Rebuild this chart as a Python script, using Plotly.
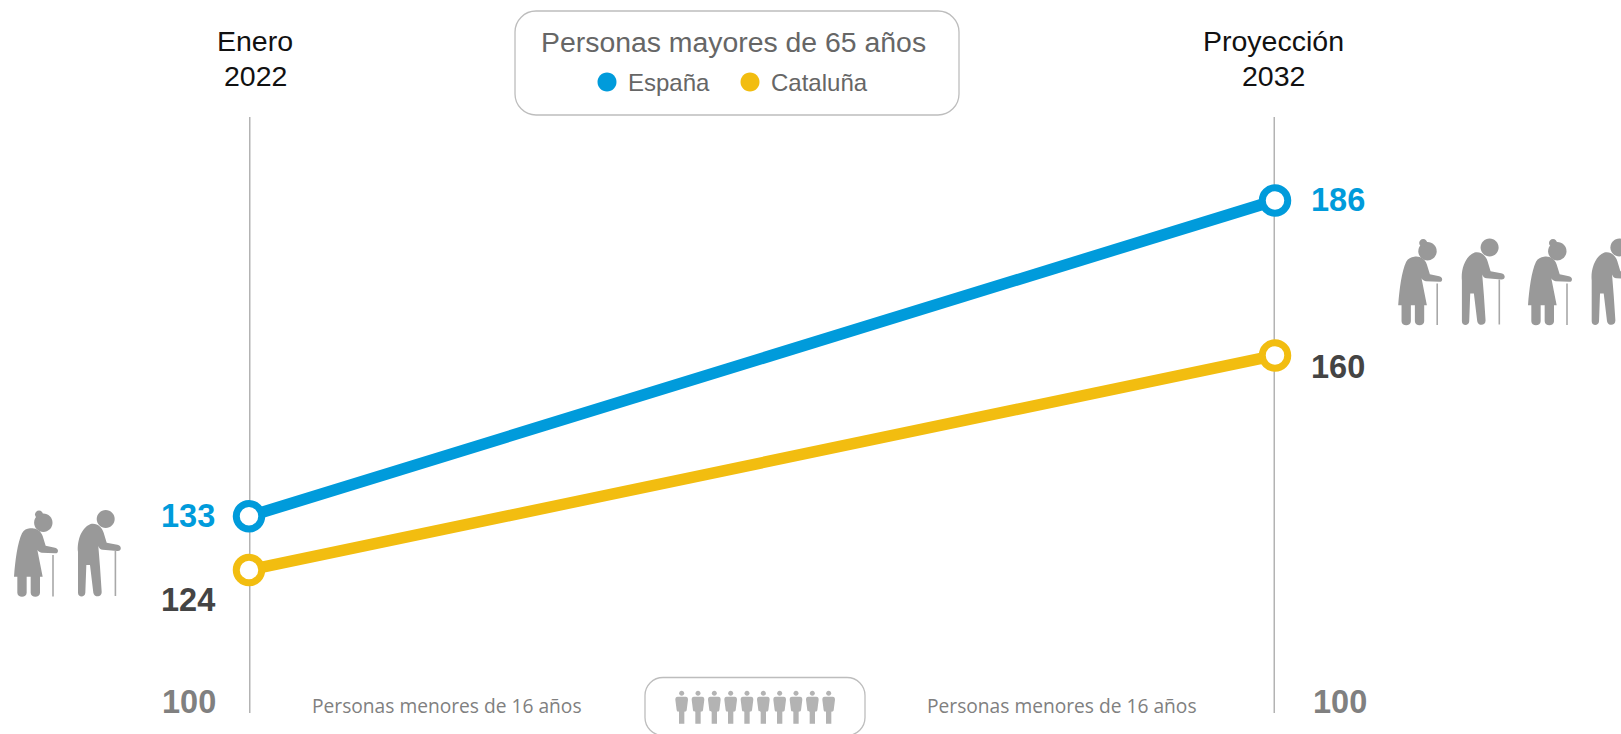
import plotly.graph_objects as go

# ---------- data ----------
periods = ["Enero 2022", "Proyección 2032"]
period_line1 = ["Enero", "Proyección"]
period_line2 = ["2022", "2032"]
espana = [133, 186]
cataluna = [124, 160]
base_value = 100
series_names = ["España", "Cataluña"]
legend_title = "Personas mayores de 65 años"
under16_label = "Personas menores de 16 años"

# ---------- style ----------
W, H = 1621, 734
BLUE, YELLOW = "#009bdb", "#f2bd10"
AX_L, AX_R, AX_T, AX_B = 249, 1275, 117, 713
ICON = "#999999"
PERSON = "#b3b3b3"
FONT = "Liberation Sans, Arial, sans-serif"


def px(x):
    return x / W


def py(y):
    return 1 - y / H


def path(points_cmd):
    """Path given in page pixels -> paper coordinates."""
    out = []
    for tok in points_cmd.split():
        if "," in tok:
            a, b = tok.split(",")
            out.append(f"{px(float(a)):.5f},{py(float(b)):.5f}")
        else:
            out.append(tok)
    return " ".join(out)


def local(d, ox, oy, s=1 / 3):
    out = []
    for tok in d.split():
        if "," in tok:
            a, b = tok.split(",")
            out.append(f"{ox + float(a) * s:.2f},{oy + float(b) * s:.2f}")
        else:
            out.append(tok)
    return " ".join(out)


def circle_path(cx, cy, r):
    k = 0.5523 * r
    return (f"M {cx - r},{cy} C {cx - r},{cy - k} {cx - k},{cy - r} {cx},{cy - r} "
            f"C {cx + k},{cy - r} {cx + r},{cy - k} {cx + r},{cy} "
            f"C {cx + r},{cy + k} {cx + k},{cy + r} {cx},{cy + r} "
            f"C {cx - k},{cy + r} {cx - r},{cy + k} {cx - r},{cy} Z")


def rounded_rect(x0, y0, x1, y1, r):
    k = r * 0.45
    return (f"M {x0 + r},{y0} L {x1 - r},{y0} C {x1 - k},{y0} {x1},{y0 + k} {x1},{y0 + r} "
            f"L {x1},{y1 - r} C {x1},{y1 - k} {x1 - k},{y1} {x1 - r},{y1} "
            f"L {x0 + r},{y1} C {x0 + k},{y1} {x0},{y1 - k} {x0},{y1 - r} "
            f"L {x0},{y0 + r} C {x0},{y0 + k} {x0 + k},{y0} {x0 + r},{y0} Z")


# icon outlines, drawn in 3x units
WOMAN_BODY = ("M 90,145 C 106,142 122,150 128,168 L 137,197 L 165,203 "
              "C 177,205 177,221 165,220 L 125,218 C 118,217 114,213 112,209 "
              "L 128,290 L 120,290 L 120,338 C 120,354 92,354 92,338 L 92,290 L 80,290 L 80,338 "
              "C 80,354 52,354 52,338 L 52,290 L 42,290 C 46,240 52,190 66,160 C 72,150 80,146 90,145 Z")
MAN_BODY = ("M 272,132 C 292,128 306,142 311,158 L 320,188 L 352,194 C 366,196 366,214 352,213 "
            "L 308,209 C 302,209 297,205 295,198 L 300,260 L 305,335 C 306,353 282,353 280,338 "
            "L 270,255 L 259,255 L 256,338 C 255,353 234,353 234,338 L 234,215 "
            "C 231,190 240,145 272,132 Z")
PERSON_BODY = ("M -12,11 C -17,11 -19,14 -19,20 L -15,52 C -14,56 -11,56 -8,56 L -8,92 L 8,92 L 8,56 "
               "C 11,56 14,56 15,52 L 19,20 C 19,14 17,11 12,11 Z")

shapes = []

# axis rules, behind everything
for p in periods:
    shapes.append(dict(type="line", xref="x", yref="y", x0=p, x1=p, y0=base_value, y1=200,
                       line=dict(color="#b3b3b3", width=3), layer="below"))


def add_fill(d, color):
    shapes.append(dict(type="path", xref="paper", yref="paper", path=path(d),
                       fillcolor=color, line=dict(width=0), layer="above"))


def add_cane(x, y0, y1):
    shapes.append(dict(type="line", xref="paper", yref="paper", x0=px(x), x1=px(x),
                       y0=py(y0), y1=py(y1), line=dict(color="#a8a8a8", width=1.6)))


def woman(ox, oy):
    add_fill(local(WOMAN_BODY, ox, oy), ICON)
    add_fill(circle_path(ox + 43.3, oy + 42.7, 9.2), ICON)
    add_fill(circle_path(ox + 39, oy + 34.5, 4), ICON)
    add_cane(ox + 53, oy + 75, oy + 116.5)


def man(ox, oy):
    add_fill(local(MAN_BODY, ox, oy), ICON)
    add_fill(circle_path(ox + 105.7, oy + 39, 9), ICON)
    add_cane(ox + 115.4, oy + 71, oy + 116)


woman(0, 480)
man(0, 480)
for dx in (4.2, 134):
    woman(1380 + dx, 208.5)
    man(1380 + dx - 0.3, 208.5)

# children row
for i in range(10):
    cx = 620 + (185 + 49 * i) / 3
    add_fill(circle_path(round(cx, 2), 693.3, 2.5), PERSON)
    add_fill(local(PERSON_BODY, cx, 693), PERSON)

# rounded boxes
shapes.append(dict(type="path", xref="paper", yref="paper",
                   path=path(rounded_rect(515, 11, 959, 115, 21)),
                   line=dict(color="#bdbdbd", width=1.3), fillcolor="rgba(0,0,0,0)"))
shapes.append(dict(type="path", xref="paper", yref="paper",
                   path=path(rounded_rect(645, 677.5, 865, 735.5, 18)),
                   line=dict(color="#bdbdbd", width=1.3), fillcolor="rgba(0,0,0,0)"))
# legend dots
add_fill(circle_path(607, 82, 9.5), BLUE)
add_fill(circle_path(750, 82, 9.5), YELLOW)

fig = go.Figure()
for name, vals, col in ((series_names[0], espana, BLUE), (series_names[1], cataluna, YELLOW)):
    fig.add_trace(go.Scatter(
        x=periods, y=vals, name=name, mode="lines+markers", cliponaxis=False,
        line=dict(color=col, width=11.5),
        marker=dict(size=25.5, color="white", line=dict(color=col, width=7)),
        showlegend=False,
    ))


def page_text(text, x, y, size, color, family=FONT, bold=False, xanchor="center"):
    return dict(text=f"<b>{text}</b>" if bold else text, xref="paper", yref="paper",
                x=px(x), y=py(y), xanchor=xanchor, yanchor="middle", showarrow=False,
                font=dict(family=family, size=size, color=color))


def value_text(v, xi, color, xshift, yshift=0):
    return dict(text=f"<b>{v}</b>", xref="x", yref="y", x=periods[xi], y=v,
                xanchor="center", yanchor="middle", showarrow=False, xshift=xshift,
                yshift=yshift, font=dict(family=FONT, size=32.5, color=color))


def period_text(text, xi, y, xshift):
    return dict(text=text, xref="x", yref="paper", x=periods[xi], y=py(y), xshift=xshift,
                showarrow=False, xanchor="center", yanchor="middle",
                font=dict(family=FONT, size=28.5, color="#111111"))


annotations = [
    value_text(espana[0], 0, BLUE, -61),
    value_text(cataluna[0], 0, "#444444", -61, -30),
    value_text(base_value, 0, "#808080", -60, 11),
    value_text(espana[1], 1, BLUE, 63),
    value_text(cataluna[1], 1, "#444444", 63, -12),
    value_text(base_value, 1, "#808080", 65, 11),
    page_text(legend_title, 733, 41.5, 28.4, "#666666"),
    page_text(series_names[0], 626, 82.5, 24, "#666666", xanchor="left"),
    page_text(series_names[1], 768.5, 82.5, 24, "#666666", xanchor="left"),
    page_text(under16_label, 447, 705, 19.2, "#808080", family="Open Sans, sans-serif"),
    page_text(under16_label, 1062, 705, 19.2, "#808080", family="Open Sans, sans-serif"),
    period_text(period_line1[0], 0, 41, 6),
    period_text(period_line2[0], 0, 76, 6),
    period_text(period_line1[1], 1, 41, -2),
    period_text(period_line2[1], 1, 76, -2),
]

fig.update_layout(
    width=W, height=H, autosize=False,
    margin=dict(l=0, r=0, t=0, b=0, pad=0),
    paper_bgcolor="white", plot_bgcolor="white",
    shapes=shapes, annotations=annotations, showlegend=False,
    xaxis=dict(domain=[px(AX_L), px(AX_R)], type="category", categoryorder="array",
               categoryarray=periods, range=[0, 1], showgrid=False,
               zeroline=False, showline=False, showticklabels=False,
               ticks="", fixedrange=True),
    yaxis=dict(domain=[py(AX_B), py(AX_T)], range=[100, 200], showgrid=False,
               zeroline=False, showline=False, showticklabels=False, ticks="",
               fixedrange=True),
)

fig.write_html("out.html", config=dict(displayModeBar=False),
               post_script="document.body.style.margin='0';document.body.style.overflow='hidden';")
